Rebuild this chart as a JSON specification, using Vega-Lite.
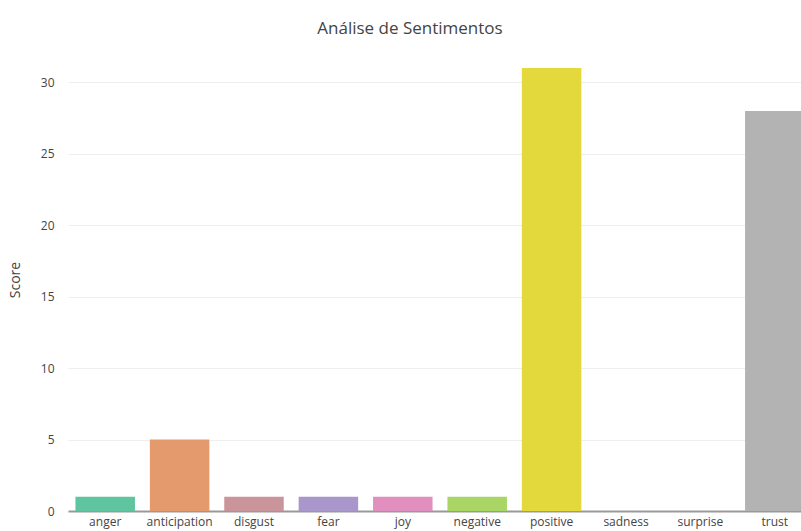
{
  "$schema": "https://vega.github.io/schema/vega-lite/v6.json",
  "autosize": {"type": "none"},
  "width": 744,
  "height": 463,
  "padding": {"left": 68, "top": 48, "right": 0, "bottom": 20},
  "background": "white",
  "title": {
    "text": "Análise de Sentimentos",
    "font": "Open Sans",
    "fontSize": 17,
    "fontWeight": "normal",
    "color": "#444",
    "anchor": "middle",
    "dx": -30,
    "offset": 10
  },
  "data": {
    "values": [
      {"sentiment": "anger", "score": 1, "color": "#5fc4a0"},
      {"sentiment": "anticipation", "score": 5, "color": "#e59a6e"},
      {"sentiment": "disgust", "score": 1, "color": "#c9959b"},
      {"sentiment": "fear", "score": 1, "color": "#a997cc"},
      {"sentiment": "joy", "score": 1, "color": "#e08fbf"},
      {"sentiment": "negative", "score": 1, "color": "#a8d564"},
      {"sentiment": "positive", "score": 31, "color": "#e3d83c"},
      {"sentiment": "sadness", "score": 0, "color": "#e6c494"},
      {"sentiment": "surprise", "score": 0, "color": "#b3b3b3"},
      {"sentiment": "trust", "score": 28, "color": "#b3b3b3"}
    ]
  },
  "mark": {"type": "bar"},
  "encoding": {
    "x": {
      "field": "sentiment",
      "type": "nominal",
      "sort": null,
      "scale": {"paddingInner": 0.2, "paddingOuter": 0.1},
      "axis": {
        "title": null,
        "labelAngle": 0,
        "ticks": false,
        "labelPadding": 5,
        "labelFont": "Open Sans",
        "labelFontSize": 12,
        "labelColor": "#444",
        "domainColor": "#999",
        "domainWidth": 2
      }
    },
    "y": {
      "field": "score",
      "type": "quantitative",
      "scale": {"domain": [0, 32.4], "nice": false},
      "axis": {
        "title": "Score",
        "titleFont": "Open Sans",
        "titleFontSize": 14,
        "titleFontWeight": "normal",
        "titleColor": "#444",
        "titlePadding": 18,
        "values": [0, 5, 10, 15, 20, 25, 30],
        "ticks": false,
        "domain": false,
        "labelPadding": 14,
        "labelFont": "Open Sans",
        "labelFontSize": 12,
        "labelColor": "#444",
        "gridColor": "#eeeeee"
      }
    },
    "color": {"field": "color", "type": "nominal", "scale": null, "legend": null}
  },
  "config": {"view": {"stroke": null}}
}
